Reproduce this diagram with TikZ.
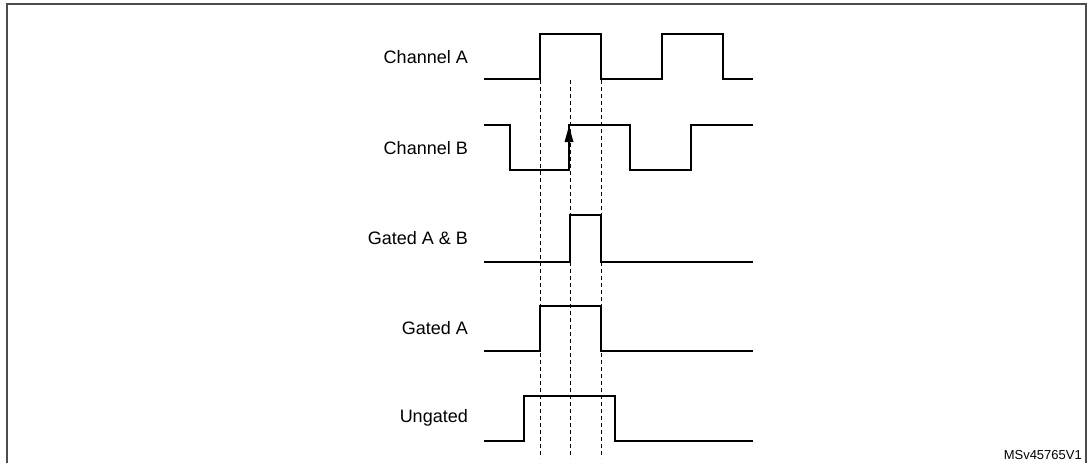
\documentclass[tikz,border=0pt]{standalone}
\usepackage{fontspec}
\setmainfont{Liberation Sans}
\usetikzlibrary{arrows.meta}
\begin{document}
\begin{tikzpicture}[x=1pt,y=-1pt,
  sig/.style={line width=1.6pt,line join=miter},
  guide/.style={line width=0.6pt,dash pattern=on 4pt off 3pt},
  lbl/.style={anchor=east,font=\fontsize{18}{20}\selectfont,inner sep=0pt}]
\useasboundingbox (0,0) rectangle (1089,463);
\draw[line width=1.5pt,gray!60!black] (7,463) -- (7,4) -- (1086,4) -- (1086,463);
\node[lbl] (la) at (468,57) {Channel A};
\node[lbl] (lb) at (468,148) {Channel B};
\node[lbl] (lg) at (468,238) {Gated A \& B};
\node[lbl] (lga) at (468,328) {Gated A};
\node[lbl] (lu) at (468,418) {Ungated};
\node[anchor=south east,font=\fontsize{13}{15}\selectfont,inner sep=0pt] (id) at (1082,460) {MSv45765V1};
\foreach \x in {540,570,601} \draw[guide] (\x,80) -- (\x,458);
\draw[sig] (484,79) -- (540,79) -- (540,34) -- (601,34) -- (601,79) -- (662,79) -- (662,34) -- (723,34) -- (723,79) -- (753,79);
\draw[sig] (484,125) -- (510,125) -- (510,170) -- (569,170) -- (569,125) -- (630,125) -- (630,170) -- (691,170) -- (691,125) -- (753,125);
\coordinate (tip) at (569,126);
\fill (tip) -- ++(-4.5,16) -- ++(9,0) -- cycle;
\draw[sig] (484,262) -- (570,262) -- (570,215) -- (601,215) -- (601,262) -- (753,262);
\draw[sig] (484,351) -- (540,351) -- (540,306) -- (601,306) -- (601,351) -- (753,351);
\draw[sig] (484,441) -- (524,441) -- (524,396) -- (615,396) -- (615,441) -- (753,441);
\end{tikzpicture}
\end{document}
